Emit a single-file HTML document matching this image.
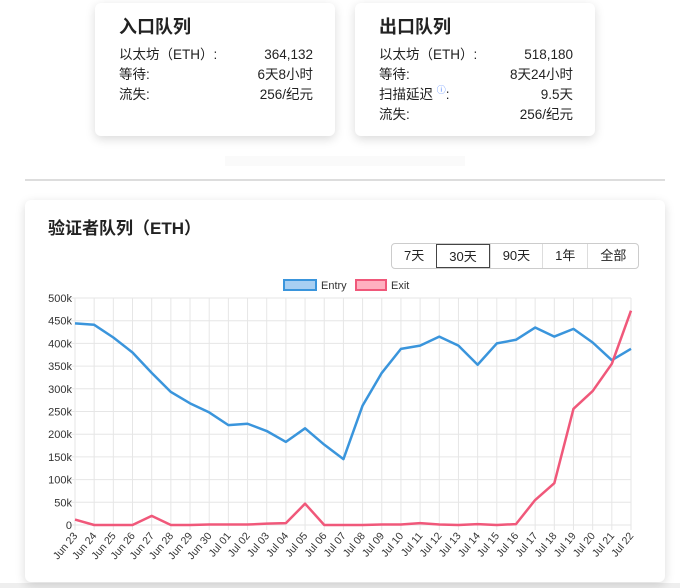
<!DOCTYPE html>
<html><head><meta charset="utf-8"><style>
body{margin:0;width:680px;height:588px;background:#fff;font-family:"Liberation Sans","Noto Sans CJK SC",sans-serif;position:relative;overflow:hidden;color:#222}
.card{position:absolute;background:#fff;border-radius:6px;box-shadow:0 3px 10px rgba(0,0,0,0.15)}
.row{display:flex;justify-content:space-between;font-size:13.5px;line-height:20px;height:20px}
h3{margin:0 0 5px 0;font-size:18px;font-weight:600;line-height:26px}
.btns{position:absolute;left:391px;top:243px;display:flex;border:1px solid #ccc;border-radius:4px;height:24px;font-size:13px}
.btns div{padding:0 12px;line-height:24px;border-left:1px solid #ddd}
.btns div:first-child{border-left:none}
.btns .on{border:1px solid #444}
.i{color:#58f;font-size:9px;position:relative;top:-6px;line-height:0}
</style></head><body>
<div class="card" style="left:95px;top:3px;width:240px;height:133px;padding:0">
<div style="position:absolute;left:24px;top:11px;right:22px"><h3>入口队列</h3>
<div class="row"><span>以太坊（ETH）:</span><span>364,132</span></div>
<div class="row"><span>等待:</span><span>6天8小时</span></div>
<div class="row"><span>流失:</span><span>256/纪元</span></div></div></div>
<div class="card" style="left:355px;top:3px;width:240px;height:133px">
<div style="position:absolute;left:24px;top:11px;right:22px"><h3>出口队列</h3>
<div class="row"><span>以太坊（ETH）:</span><span>518,180</span></div>
<div class="row"><span>等待:</span><span>8天24小时</span></div>
<div class="row"><span>扫描延迟 <span class="i">ⓘ</span>:</span><span>9.5天</span></div>
<div class="row"><span>流失:</span><span>256/纪元</span></div></div></div>
<div style="position:absolute;left:225px;top:156px;width:240px;height:10px;background:#fafafa"></div>
<div style="position:absolute;left:25px;top:179px;width:640px;height:2px;background:#ddd"></div>
<div style="position:absolute;left:0;top:583px;width:680px;height:5px;background:#eee"></div>
<div class="card" style="left:25px;top:200px;width:640px;height:382px;border-radius:6px"></div>
<div style="position:absolute;left:48px;top:214px;font-size:17px;font-weight:600">验证者队列（ETH）</div>
<div class="btns"><div>7天</div><div class="on">30天</div><div>90天</div><div>1年</div><div>全部</div></div>
<svg id="c" width="680" height="588" style="position:absolute;left:0;top:0" font-family="Liberation Sans, sans-serif"></svg>
<script>
var E=[444,441,413,380,335,293,268,248,220,223,207,183,213,177,145,263,335,388,395,415,395,353,400,408,435,415,432,402,363,388];
var X=[12,0,0,0,20,0,0,1,1,1,3,4,47,0,0,0,1,1,4,1,0,2,0,2,55,92,256,295,355,472];
var d=["Jun 23","Jun 24","Jun 25","Jun 26","Jun 27","Jun 28","Jun 29","Jun 30","Jul 01","Jul 02","Jul 03","Jul 04","Jul 05","Jul 06","Jul 07","Jul 08","Jul 09","Jul 10","Jul 11","Jul 12","Jul 13","Jul 14","Jul 15","Jul 16","Jul 17","Jul 18","Jul 19","Jul 20","Jul 21","Jul 22"];
var x0=75,st=556/29,y0=525,ys=227/500,s='';
for(var i=0;i<=10;i++){var y=y0-i*50*ys;s+='<line x1="'+(x0-5)+'" x2="631" y1="'+y+'" y2="'+y+'" stroke="#e6e6e6"/>';s+='<text x="72" y="'+(y+4)+'" text-anchor="end" font-size="11" fill="#333">'+(i?i*50+'k':'0')+'</text>';}
for(var i=0;i<30;i++){var x=x0+i*st;s+='<line x1="'+x+'" x2="'+x+'" y1="298" y2="530" stroke="#e6e6e6"/>';s+='<text transform="translate('+(x+3)+',536) rotate(-50)" text-anchor="end" font-size="10.5" fill="#333">'+d[i]+'</text>';}
function p(a,c){return '<polyline fill="none" stroke="'+c+'" stroke-width="2.5" stroke-linejoin="round" points="'+a.map(function(v,i){return (x0+i*st)+','+(y0-v*ys)}).join(' ')+'"/>';}
s+=p(E,'#3a95dc')+p(X,'#f0587a');
s+='<rect x="284" y="280" width="32" height="10" fill="#a8cff2" stroke="#3a95dc" stroke-width="2"/><text x="321" y="289" font-size="11" fill="#333">Entry</text>';
s+='<rect x="356" y="280" width="30" height="10" fill="#ffb0c0" stroke="#f0587a" stroke-width="2"/><text x="391" y="289" font-size="11" fill="#333">Exit</text>';
document.getElementById('c').innerHTML=s;
</script>
</body></html>
